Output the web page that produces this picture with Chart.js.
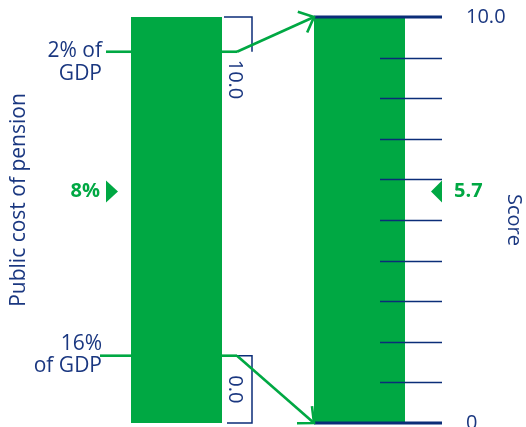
<!DOCTYPE html>
<html><head><meta charset="utf-8">
<script src="https://cdn.jsdelivr.net/npm/chart.js@4/dist/chart.umd.min.js"></script>
<style>html,body{margin:0;padding:0;background:#fff}#wrap{width:526px;height:427px}</style>
</head><body><div id="wrap"><canvas id="c" width="526" height="427"></canvas></div>
<script>
// ---- data ----
const categories = ['Public cost of pension', 'Score'];
const barValues = [10, 10];
const scoreMin = 0;
const scoreMax = 10;
const scoreTicks = [0, 10];
const scoreTickLabels = ['0', '10.0'];
const minorTicks = [1, 2, 3, 4, 5, 6, 7, 8, 9];
const costLevels = [2, 16];
const costLabels = [['2% of', 'GDP'], ['16%', 'of GDP']];
const bracketLabels = ['10.0', '0.0'];
const costValueLabel = '8%';
const scoreValue = 5.7;
const scoreValueLabel = '5.7';
const leftTitle = 'Public cost of pension';
const rightTitle = 'Score';

// ---- styles ----
const GREEN = '#00a843';
const NAVY = '#0b2d78';
const TEXT = '#1a3780';
const FONT = "'Open Sans', 'Noto Sans', sans-serif";

function arrow(ctx, x0, y0, x1, y1) {
  ctx.beginPath(); ctx.moveTo(x0, y0); ctx.lineTo(x1, y1); ctx.stroke();
  const a = Math.atan2(y0 - y1, x0 - x1), L = 17, s = 42 * Math.PI / 180;
  ctx.beginPath();
  ctx.moveTo(x1 + L * Math.cos(a - s), y1 + L * Math.sin(a - s));
  ctx.lineTo(x1, y1);
  ctx.lineTo(x1 + L * Math.cos(a + s), y1 + L * Math.sin(a + s));
  ctx.stroke();
}

const overlay = {
  id: 'overlay',
  afterDatasetsDraw(chart) {
    const ctx = chart.ctx;
    const y = chart.scales.y, c = chart.scales.cost;
    const meta = chart.getDatasetMeta(0);
    const b0 = meta.data[0], b1 = meta.data[1];
    const b0L = b0.x - b0.width / 2, b0R = b0.x + b0.width / 2;
    const b1L = b1.x - b1.width / 2, b1R = b1.x + b1.width / 2;
    const yTop = y.getPixelForValue(scoreMax), yBot = y.getPixelForValue(scoreMin);
    const axR = chart.chartArea.right - 9;
    ctx.save();
    ctx.lineCap = 'butt';

    // score scale lines
    ctx.strokeStyle = NAVY;
    ctx.lineWidth = 1.4;
    minorTicks.forEach(v => {
      const p = Math.round(y.getPixelForValue(v)) + 0.5;
      ctx.beginPath(); ctx.moveTo(b1R - 25, p); ctx.lineTo(axR, p); ctx.stroke();
    });
    ctx.lineWidth = 3.2;
    [yTop, yBot].forEach(p => {
      ctx.beginPath(); ctx.moveTo(b1L, p); ctx.lineTo(axR, p); ctx.stroke();
    });

    // cost level lines, brackets and arrows
    const yc0 = c.getPixelForValue(costLevels[0]);
    const yc1 = c.getPixelForValue(costLevels[1]);
    const bx = b0R + 30, kx = b0R + 15;

    ctx.strokeStyle = NAVY; ctx.lineWidth = 1.5;
    ctx.beginPath(); ctx.moveTo(b0R + 2, yTop); ctx.lineTo(bx, yTop); ctx.lineTo(bx, yc0); ctx.stroke();
    ctx.beginPath(); ctx.moveTo(kx, yc1); ctx.lineTo(bx, yc1); ctx.lineTo(bx, yBot); ctx.lineTo(b0R + 5, yBot); ctx.stroke();

    ctx.strokeStyle = GREEN; ctx.lineWidth = 2.6;
    ctx.beginPath(); ctx.moveTo(b0L - 25, yc0); ctx.lineTo(b0L, yc0); ctx.stroke();
    ctx.beginPath(); ctx.moveTo(b0L - 31, yc1); ctx.lineTo(b0L, yc1); ctx.stroke();
    ctx.beginPath(); ctx.moveTo(b0R, yc0); ctx.lineTo(kx, yc0); ctx.stroke();
    ctx.beginPath(); ctx.moveTo(b0R, yc1); ctx.lineTo(kx, yc1); ctx.stroke();
    arrow(ctx, kx, yc0, b1L, yTop);
    arrow(ctx, kx, yc1, b1L, yBot);

    // cost labels
    ctx.fillStyle = TEXT;
    ctx.font = '21px ' + FONT;
    ctx.textAlign = 'right'; ctx.textBaseline = 'middle';
    const lx = b0L - 29;
    ctx.fillText(costLabels[0][0], lx, yc0 - 1);
    ctx.fillText(costLabels[0][1], lx, yc0 + 22);
    ctx.fillText(costLabels[1][0], lx, yc1 - 12);
    ctx.fillText(costLabels[1][1], lx, yc1 + 10);

    // bracket labels (rotated)
    ctx.font = '20px ' + FONT;
    ctx.save(); ctx.translate(b0R + 13, yc0 + 8); ctx.rotate(Math.PI / 2);
    ctx.textAlign = 'left'; ctx.fillText(bracketLabels[0], 0, 0); ctx.restore();
    ctx.save(); ctx.translate(b0R + 13, (yc1 + yBot) / 2); ctx.rotate(Math.PI / 2);
    ctx.textAlign = 'center'; ctx.fillText(bracketLabels[1], 0, 0); ctx.restore();

    // value markers
    const ym = y.getPixelForValue(scoreValue);
    ctx.fillStyle = GREEN;
    ctx.font = 'bold 20px ' + FONT;
    ctx.textAlign = 'right';
    ctx.fillText(costValueLabel, b0L - 31, ym);
    ctx.beginPath(); ctx.moveTo(b0L - 25, ym - 11); ctx.lineTo(b0L - 13, ym); ctx.lineTo(b0L - 25, ym + 11); ctx.closePath(); ctx.fill();
    ctx.textAlign = 'left';
    ctx.fillText(scoreValueLabel, axR + 12, ym);
    ctx.beginPath(); ctx.moveTo(axR, ym - 11); ctx.lineTo(axR - 11, ym); ctx.lineTo(axR, ym + 11); ctx.closePath(); ctx.fill();

    // left title
    ctx.fillStyle = TEXT;
    ctx.font = '21px ' + FONT;
    ctx.save(); ctx.translate(19, 200); ctx.rotate(-Math.PI / 2);
    ctx.textAlign = 'center'; ctx.fillText(leftTitle, 0, 0); ctx.restore();

    ctx.restore();
  }
};

new Chart(document.getElementById('c'), {
  type: 'bar',
  data: {
    labels: categories,
    datasets: [{ data: barValues, backgroundColor: GREEN, borderWidth: 0, yAxisID: 'y' }]
  },
  options: {
    responsive: false,
    animation: false,
    layout: { padding: { top: 17, bottom: 4, left: 0, right: 0 } },
    datasets: { bar: { barPercentage: 1, categoryPercentage: 91 / 183 } },
    plugins: { legend: { display: false }, tooltip: { enabled: false } },
    scales: {
      x: { display: false },
      cost: {
        type: 'linear', position: 'left', reverse: true, min: 0.4, max: 19.1,
        ticks: { display: false }, grid: { display: false }, border: { display: false },
        afterFit(s) { s.width = 85; s.paddingTop = 0; s.paddingBottom = 0; }
      },
      y: {
        type: 'linear', position: 'right', min: scoreMin, max: scoreMax,
        grid: { display: false }, border: { display: false },
        afterBuildTicks(s) { s.ticks = scoreTicks.map(v => ({ value: v })); },
        ticks: {
          padding: 7, color: TEXT, font: { family: FONT, size: 20 },
          callback(v) { return scoreTickLabels[scoreTicks.indexOf(v)]; }
        },
        title: { display: true, text: rightTitle, color: TEXT, font: { family: FONT, size: 20 }, padding: { top: 0, bottom: 0 } },
        afterFit(s) { s.width = 75; s.paddingTop = 0; s.paddingBottom = 0; }
      }
    }
  },
  plugins: [overlay]
});
</script>
</body></html>
